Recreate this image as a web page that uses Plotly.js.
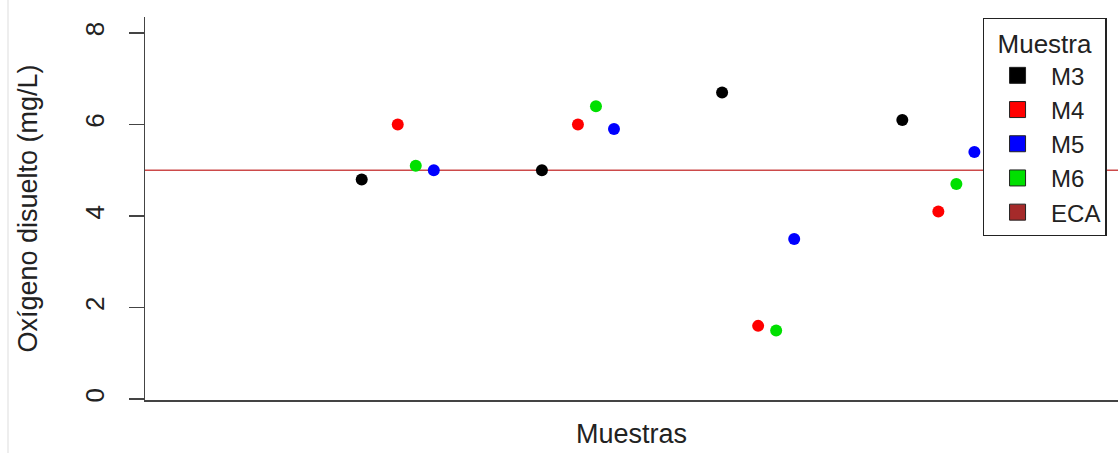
<!DOCTYPE html>
<html>
<head>
<meta charset="utf-8">
<script src="https://cdn.plot.ly/plotly-3.0.1.min.js"></script>
<style>html,body{margin:0;padding:0;background:#fff;}#chart{width:1118px;height:453px;}</style>
</head>
<body>
<div id="chart"></div>
<script>
// ---- data ----
const groups = [1, 2, 3, 4];            // sampling groups along the x axis (unlabelled)
const seriesNames = ["M3", "M4", "M5", "M6"];
const M3 = [4.8, 5.0, 6.7, 6.1];
const M4 = [6.0, 6.0, 1.6, 4.1];
const M5 = [5.0, 5.9, 3.5, 5.4];
const M6 = [5.1, 6.4, 1.5, 4.7];
const ECA = 5.0;
const yTicks = [0, 2, 4, 6, 8];

// ---- styling ----
const colors = {M3: "#000000", M4: "#ff0000", M5: "#0000ff", M6: "#00e000", ECA: "#a52a2a"};
const dodge = {M3: 0, M4: 0.2, M5: 0.4, M6: 0.3};
const values = {M3, M4, M5, M6};
const FONT = "Liberation Sans, Arial, sans-serif";

const traces = [];
seriesNames.forEach(name => {
  traces.push({
    type: "scatter", mode: "markers", name: name, showlegend: false,
    x: groups.map(g => g + dodge[name]), y: values[name],
    marker: {color: colors[name], size: 12, symbol: "circle"},
    hoverinfo: "name+y"
  });
});
// legend entries (squares, as in the reference)
seriesNames.concat(["ECA"]).forEach(name => {
  traces.push({
    type: "scatter", mode: "markers", name: name, showlegend: true,
    x: [null], y: [null],
    marker: {color: colors[name], size: 18, symbol: "square", line: {color: "#222", width: 1}}
  });
});

const layout = {
  width: 1118, height: 453,
  margin: {l: 145, r: 0, t: 17, b: 53},
  paper_bgcolor: "#fff", plot_bgcolor: "#fff",
  font: {family: FONT, size: 26, color: "#222"},
  showlegend: true,
  legend: {
    x: 0.861, xanchor: "left", y: 0.997, yanchor: "top",
    bordercolor: "#222", borderwidth: 1.3, bgcolor: "#fff",
    font: {family: FONT, size: 24, color: "#222"},
    title: {text: "Muestra", side: "top center", font: {family: FONT, size: 26, color: "#222"}},
    itemsizing: "trace", itemwidth: 57, entrywidth: 128, entrywidthmode: "pixels"
  },
  xaxis: {
    range: [-0.2026, 5.197], showticklabels: false, ticks: "", showgrid: false, zeroline: false,
    showline: true, linecolor: "#444", linewidth: 1.5,
    title: {text: "Muestras", font: {family: FONT, size: 27, color: "#222"}, standoff: 23}
  },
  yaxis: {
    range: [-0.02, 8.35], tickvals: yTicks, ticktext: yTicks.map(String), tickangle: -90,
    ticks: "outside", ticklen: 15, tickcolor: "#444", tickwidth: 1.5, ticklabelstandoff: 14,
    showgrid: false, zeroline: false, showline: true, linecolor: "#444", linewidth: 1.5,
    tickfont: {family: FONT, size: 26, color: "#222"},
    title: {text: "Oxígeno disuelto (mg/L)", font: {family: FONT, size: 27, color: "#222"}, standoff: 34}
  },
  shapes: [
    {type: "line", xref: "paper", yref: "y", x0: 0, x1: 1, y0: ECA, y1: ECA,
     line: {color: "#cc4a4a", width: 1.5}, layer: "below"},
    {type: "line", xref: "paper", yref: "paper", x0: -0.1408, x1: -0.1408, y0: -0.14, y1: 1.05,
     line: {color: "#eeeeee", width: 2}}
  ]
};

Plotly.newPlot("chart", traces, layout, {displayModeBar: false, staticPlot: true});
</script>
</body>
</html>
